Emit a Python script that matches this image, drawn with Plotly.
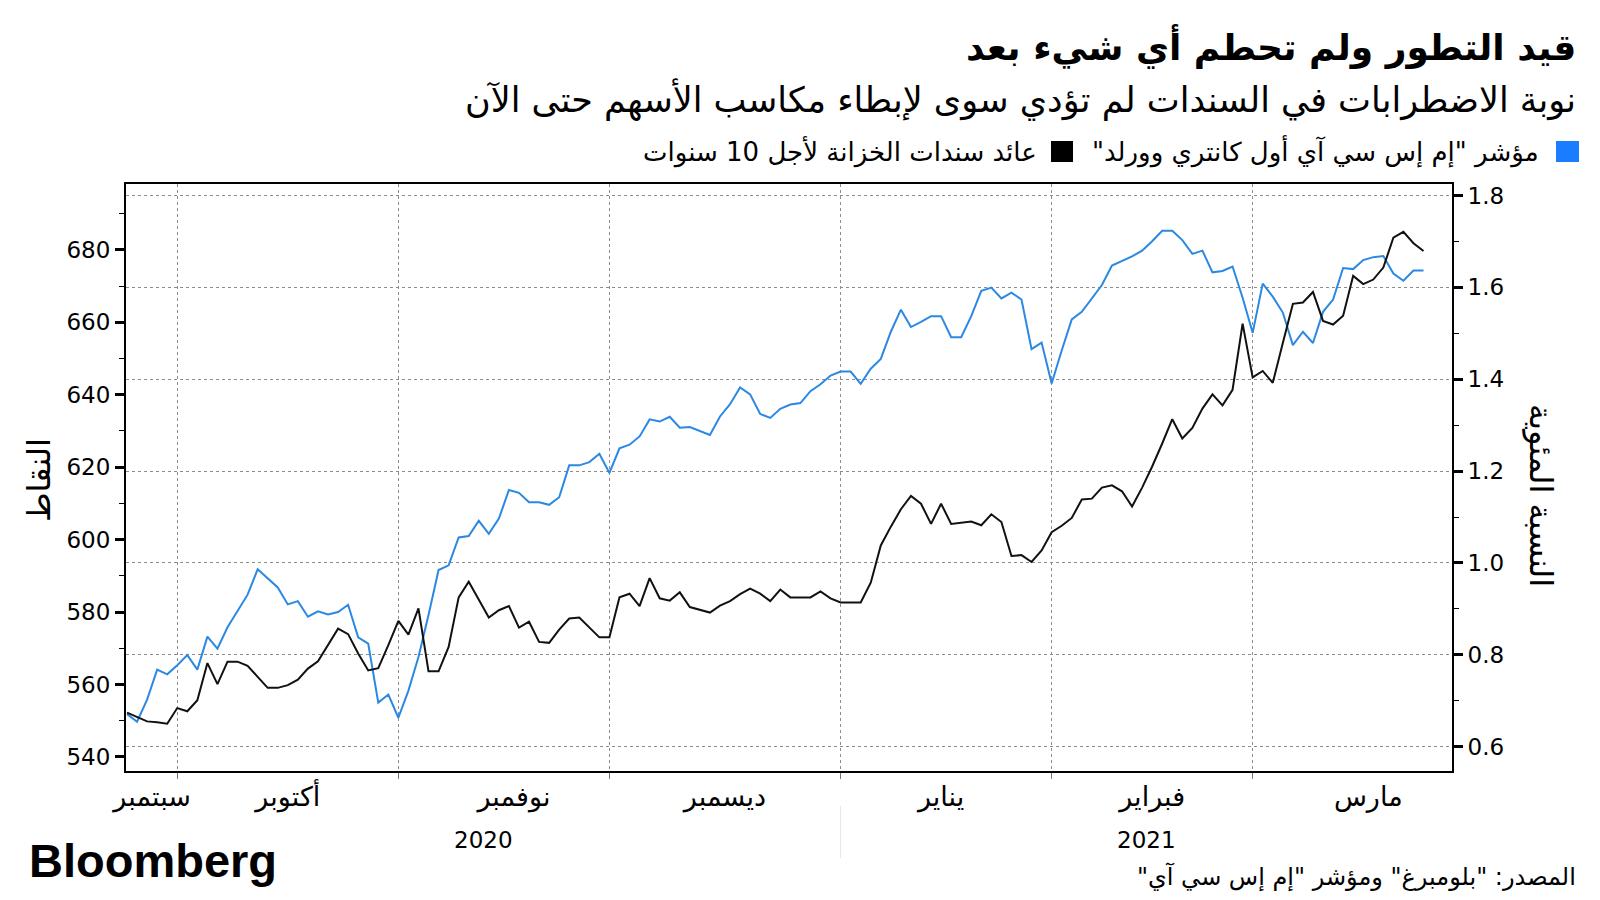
import pandas as pd
import plotly.graph_objects as go

# trading days shown (weekdays, no holiday gaps)
first_day = "2020-09-24"
last_day = "2021-03-24"
dates = pd.bdate_range(first_day, last_day)

# MSCI All Country World index, points (left axis)
msci_acwi = [
    551.8, 549.7, 555.8, 564.1, 562.8, 565.3, 568.1, 564.1, 573.2, 569.9,
    575.8, 580.2, 584.8, 591.8, 589.2, 586.8, 582.1, 583.0, 578.7, 580.2,
    579.3, 580.0, 582.0, 573.0, 571.3, 555.0, 557.2, 550.8, 558.3, 567.6,
    579.2, 591.6, 592.9, 600.6, 601.0, 605.2, 601.6, 605.8, 613.7, 612.9,
    610.3, 610.3, 609.6, 611.7, 620.5, 620.5, 621.4, 623.7, 618.4, 625.2,
    626.2, 628.5, 633.2, 632.6, 633.9, 630.9, 631.1, 629.9, 628.9, 634.0,
    637.4, 642.0, 640.1, 634.7, 633.6, 636.1, 637.3, 637.7, 641.0, 642.9,
    645.3, 646.4, 646.4, 643.0, 647.2, 649.9, 657.4, 663.5, 658.7, 660.1,
    661.7, 661.7, 655.9, 655.9, 661.7, 668.7, 669.6, 666.6, 668.2, 666.3,
    652.6, 654.4, 643.1, 652.2, 660.8, 662.9, 666.6, 670.3, 675.7, 676.9,
    678.2, 679.8, 682.4, 685.3, 685.3, 682.7, 678.9, 679.8, 673.8, 674.2,
    675.4, 666.8, 657.1, 670.7, 667.1, 662.7, 653.7, 657.4, 654.3, 662.9,
    666.3, 675.0, 674.7, 677.2, 678.0, 678.3, 673.5, 671.5, 674.3, 674.3,
]

# US 10-year Treasury yield, percent (right axis)
ust10y_yield = [
    0.674, 0.665, 0.655, 0.653, 0.650, 0.684, 0.677, 0.701, 0.782, 0.736,
    0.785, 0.785, 0.776, 0.752, 0.728, 0.728, 0.734, 0.746, 0.770, 0.786,
    0.821, 0.857, 0.845, 0.803, 0.766, 0.771, 0.821, 0.874, 0.844, 0.901,
    0.764, 0.764, 0.817, 0.925, 0.959, 0.919, 0.881, 0.897, 0.906, 0.859,
    0.872, 0.828, 0.826, 0.855, 0.879, 0.881, 0.859, 0.838, 0.838, 0.925,
    0.933, 0.906, 0.967, 0.923, 0.918, 0.936, 0.904, 0.898, 0.892, 0.907,
    0.917, 0.932, 0.944, 0.933, 0.917, 0.942, 0.925, 0.925, 0.925, 0.938,
    0.923, 0.914, 0.914, 0.914, 0.957, 1.038, 1.079, 1.117, 1.146, 1.129,
    1.085, 1.129, 1.085, 1.088, 1.090, 1.082, 1.106, 1.089, 1.015, 1.017,
    1.002, 1.027, 1.067, 1.081, 1.098, 1.138, 1.140, 1.164, 1.169, 1.156,
    1.123, 1.164, 1.210, 1.260, 1.313, 1.271, 1.294, 1.336, 1.367, 1.343,
    1.377, 1.521, 1.404, 1.418, 1.392, 1.479, 1.564, 1.567, 1.590, 1.527,
    1.519, 1.538, 1.625, 1.607, 1.617, 1.643, 1.708, 1.721, 1.696, 1.679,
]

month_labels = ["سبتمبر", "أكتوبر", "نوفمبر", "ديسمبر", "يناير", "فبراير", "مارس"]
month_label_at = ["2020-09-28 12:00", "2020-10-16", "2020-11-17 12:00", "2020-12-16 12:00",
                  "2021-01-15", "2021-02-15", "2021-03-16 12:00"]
month_starts = ["2020-10-01", "2020-11-02", "2020-12-01", "2021-01-01", "2021-02-01", "2021-03-01"]
year_labels = ["2020", "2021"]

title = "قيد التطور ولم تحطم أي شيء بعد"
subtitle = "نوبة الاضطرابات في السندات لم تؤدي سوى لإبطاء مكاسب الأسهم حتى الآن"
name_msci = 'مؤشر "إم إس سي آي أول كانتري وورلد"'
name_yield = "عائد سندات الخزانة لأجل 10 سنوات"
left_title = "النقاط"
right_title = "النسبة المئوية"
source = 'المصدر: "بلومبرغ" ومؤشر "إم إس سي آي"'

BLUE = "#2b88e3"
FONT = "DejaVu Sans"
RLM = "\u200f"


def rtl(s):
    return RLM + s + RLM


# page has an 8px body margin, so the figure is drawn a bit smaller
OFF = 8
W, H = 1600 - 2 * OFF, 900 - 2 * OFF
# plot area in page pixels
L, R, T, B = 126, 1452, 184, 771


def px(x):
    return (x - L) / (R - L)


def py(y):
    return (B - y) / (B - T)


fig = go.Figure()
fig.add_trace(go.Scatter(x=dates, y=msci_acwi, mode="lines", name=name_msci,
                         line=dict(color=BLUE, width=2)))
fig.add_trace(go.Scatter(x=dates, y=ust10y_yield, mode="lines", name=name_yield,
                         yaxis="y2", line=dict(color="#111111", width=2)))

ann = []
ann.append(dict(text="<b>" + rtl(title) + "</b>", x=px(1578), y=py(47), xanchor="right",
                yanchor="middle", font=dict(size=36, color="black")))
ann.append(dict(text=rtl(subtitle), x=px(1578), y=py(99), xanchor="right",
                yanchor="middle", font=dict(size=35, color="black")))
ann.append(dict(text=rtl(name_msci), x=px(1541), y=py(151), xanchor="right",
                yanchor="middle", font=dict(size=26, color="black")))
ann.append(dict(text=rtl(name_yield), x=px(1039), y=py(151), xanchor="right",
                yanchor="middle", font=dict(size=26, color="black")))
ann.append(dict(text=rtl(left_title), x=px(39), y=py(480), textangle=-90,
                xanchor="center", yanchor="middle", font=dict(size=32, color="black")))
ann.append(dict(text=rtl(right_title), x=px(1541), y=py(495), textangle=90,
                xanchor="center", yanchor="middle", font=dict(size=32, color="black")))
ann.append(dict(text=year_labels[0], x=px(483), y=py(840), xanchor="center",
                yanchor="middle", font=dict(size=23, color="black")))
ann.append(dict(text=year_labels[1], x=px(1146), y=py(840), xanchor="center",
                yanchor="middle", font=dict(size=23, color="black")))
ann.append(dict(text=rtl(source), x=px(1578), y=py(877), xanchor="right",
                yanchor="middle", font=dict(size=24, color="black")))
ann.append(dict(text="<b>Bloomberg</b>", x=px(27), y=py(860), xanchor="left",
                yanchor="middle", font=dict(size=47, color="black", family="Liberation Sans")))
for a in ann:
    a.update(xref="paper", yref="paper", showarrow=False)

shapes = [
    dict(type="rect", xref="paper", yref="paper", x0=px(1556), x1=px(1579), y0=py(141), y1=py(162),
         fillcolor="#1a7cff", line=dict(width=0)),
    dict(type="rect", xref="paper", yref="paper", x0=px(1051), x1=px(1073), y0=py(141), y1=py(162),
         fillcolor="black", line=dict(width=0)),
    dict(type="line", xref="x", yref="paper", x0="2021-01-01", x1="2021-01-01", y0=py(806), y1=py(858),
         line=dict(color="#e6e6e6", width=1)),
]

fig.update_layout(
    width=W, height=H, autosize=False,
    margin=dict(l=L - OFF, r=W - (R - OFF), t=T - OFF, b=H - (B - OFF)),
    paper_bgcolor="white", plot_bgcolor="white",
    showlegend=False,
    font=dict(family=FONT, color="black"),
    annotations=ann, shapes=shapes,
    xaxis=dict(
        type="date", range=["2020-09-23 21:36", "2021-03-26 20:00"],
        rangebreaks=[dict(bounds=["sat", "mon"])],
        tickmode="array", tickvals=month_label_at, ticktext=month_labels,
        ticks="", showgrid=False, zeroline=False,
        showline=True, linecolor="black", linewidth=2, mirror=True,
        tickfont=dict(size=27), ticklabelstandoff=1,
        minor=dict(tickmode="array", tickvals=month_starts, ticks="outside", ticklen=6,
                   tickcolor="#777777", tickwidth=1, showgrid=True, gridcolor="#8c8c8c",
                   griddash="dot", gridwidth=1),
    ),
    yaxis=dict(
        range=[536.1, 698.2], tick0=0, dtick=20, ticks="outside", ticklen=9, tickwidth=3,
        tickcolor="black", showline=True, linecolor="black", linewidth=2,
        showgrid=False, zeroline=False, tickfont=dict(size=23),
        minor=dict(tickmode="linear", tick0=0, dtick=10, ticks="outside", ticklen=5,
                   tickwidth=1, tickcolor="black", showgrid=False),
    ),
    yaxis2=dict(
        overlaying="y", side="right", range=[0.547, 1.825], tick0=0, dtick=0.2,
        tickformat=".1f", ticks="outside", ticklen=9, tickwidth=3, tickcolor="black",
        showline=True, linecolor="black", linewidth=2,
        showgrid=True, gridcolor="#8c8c8c", griddash="dot", gridwidth=1, zeroline=False,
        tickfont=dict(size=23),
        minor=dict(tickmode="linear", tick0=0, dtick=0.1, ticks="outside", ticklen=5,
                   tickwidth=1, tickcolor="black", showgrid=False),
    ),
)

fig.write_html("out.html")
